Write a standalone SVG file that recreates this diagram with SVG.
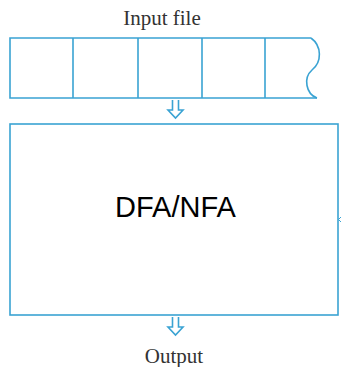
<svg xmlns="http://www.w3.org/2000/svg" width="343" height="367" viewBox="0 0 343 367">
<style>
.ln{fill:none;stroke:#3aa3d3;stroke-width:1.6}
.lbl{font-family:"Liberation Serif",serif;font-size:21px;fill:#333}
</style>
<rect width="343" height="367" fill="#fff"/>
<g id="input-file">
<text class="lbl" x="162" y="25" text-anchor="middle">Input file</text>
<path class="ln" d="M311,38 H10 V98 H317"/>
<path class="ln" d="M311,38 C322,46 322,62 312,70 C303,78 306,94 317,98"/>
<path class="ln" d="M73,38 V98 M138,38 V98 M202,38 V98 M265,38 V98"/>
</g>
<g id="connectors">
<path class="ln" d="M172.5,100 V110 H168 L175.5,118 L183,110 H178.5 V100"/>
<path class="ln" d="M172.5,317 V327 H168 L175.5,335 L183,327 H178.5 V317"/>
</g>
<g id="dfa-nfa">
<rect class="ln" x="10" y="124" width="328" height="191"/>
<path class="ln" d="M341,217 L338.5,219.5 L341,222" style="stroke-width:1"/>
<text x="175.5" y="217" text-anchor="middle" font-family="Liberation Sans,Arial,sans-serif" font-size="29" fill="#000">DFA/NFA</text>
</g>
<g id="output">
<text class="lbl" x="174" y="363" text-anchor="middle">Output</text>
</g>
</svg>
